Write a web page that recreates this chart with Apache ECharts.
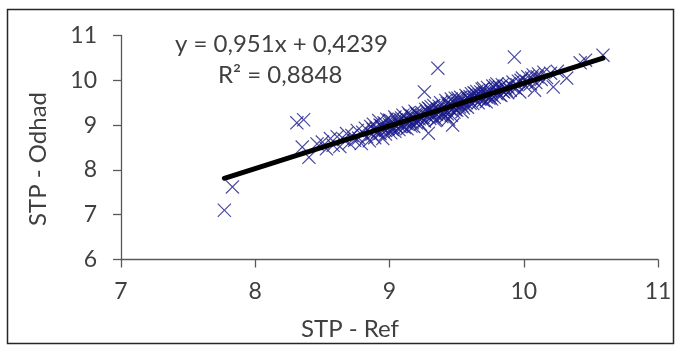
<!DOCTYPE html>
<html><head><meta charset="utf-8">
<script src="https://cdn.jsdelivr.net/npm/echarts@6/dist/echarts.min.js"></script>
<style>html,body{margin:0;padding:0;background:#fff}#c{width:676px;height:345px}</style>
</head><body><div id="c"></div>
<script>
// Scatter data: [STP - Ref, STP - Odhad]
const outlierPoints = [
  [7.77,7.10],[7.83,7.62],[8.31,9.05],[8.36,9.12],[8.35,8.51],[8.40,8.28],
  [9.36,10.27],[9.93,10.52],[10.59,10.56],[10.46,10.45],[10.42,10.39],
  [10.22,9.85],[10.32,10.05],[10.20,10.16],[9.26,9.74],[9.29,8.82],[9.47,9.00],
  [9.34,9.10],[9.44,9.13],[10.25,10.20],[10.08,9.78]
];
const clusterLow = [
  [8.46,8.58],[8.50,8.62],[8.53,8.47],[8.56,8.70],[8.58,8.55],[8.61,8.74],[8.63,8.52],
  [8.66,8.68],[8.68,8.81],[8.70,8.60],[8.72,8.77],[8.74,8.66],[8.76,8.88],[8.77,8.71],
  [8.79,8.59],[8.80,8.84],[8.82,8.93],[8.83,8.74],[8.85,8.65],[8.86,8.97]
];
const clusterMid1 = [
  [8.87,8.80],[8.88,9.02],[8.89,8.72],[8.90,8.93],[8.91,8.85],[8.92,9.10],[8.93,8.81],
  [8.94,8.98],[8.95,8.70],[8.96,9.05],[8.97,8.88],[8.98,9.13],[8.99,8.92],[9.00,9.01],
  [9.01,8.83],[9.02,9.08],[9.03,8.94],[9.04,9.18],[9.05,8.97],[9.06,9.06],[9.07,8.90],
  [9.08,9.12],[9.09,9.00],[9.10,9.22],[9.11,8.95],[9.12,9.15],[9.13,9.03],[9.14,9.27],
  [9.15,9.08],[9.16,8.98],[9.17,9.20],[9.18,9.10],[9.19,9.31],[9.20,9.05],[9.21,9.24],
  [9.22,9.14],[9.23,9.02],[9.24,9.28],[9.25,9.17],[9.27,9.35],
  [8.93,9.00],[8.97,8.80],[9.02,8.90],[9.05,9.12],[9.08,8.97],[9.12,9.05],[9.15,9.23],
  [9.18,8.97],[9.21,9.09],[9.24,9.16]
];
const clusterMid2 = [
  [9.28,9.20],[9.29,9.38],[9.30,9.15],[9.31,9.30],[9.32,9.22],[9.33,9.44],[9.34,9.26],
  [9.35,9.12],[9.36,9.35],[9.37,9.28],[9.38,9.50],[9.39,9.19],[9.40,9.40],[9.41,9.31],
  [9.42,9.55],[9.43,9.25],[9.44,9.44],[9.45,9.36],[9.46,9.22],[9.47,9.52],[9.48,9.40],
  [9.49,9.60],[9.50,9.33],[9.51,9.48],[9.52,9.41],[9.53,9.62],[9.54,9.30],[9.55,9.53],
  [9.56,9.45],[9.57,9.66],[9.58,9.40],[9.59,9.57],[9.60,9.49],
  [9.30,9.36],[9.33,9.18],[9.37,9.42],[9.40,9.24],[9.43,9.49],[9.46,9.58],[9.49,9.35],
  [9.52,9.55],[9.55,9.38],[9.58,9.62]
];
const clusterHigh = [
  [9.61,9.70],[9.62,9.48],[9.63,9.62],[9.64,9.55],[9.65,9.75],[9.66,9.50],[9.67,9.68],
  [9.68,9.58],[9.69,9.80],[9.70,9.55],[9.71,9.72],[9.72,9.63],[9.73,9.84],[9.74,9.60],
  [9.75,9.78],[9.76,9.68],[9.77,9.87],[9.78,9.62],[9.79,9.80],[9.80,9.70],[9.82,9.85],
  [9.83,9.66],[9.84,9.90],[9.85,9.74],[9.86,9.83],[9.88,9.72],[9.89,9.92],
  [9.64,9.70],[9.68,9.74],[9.72,9.52],[9.75,9.62],[9.79,9.88],[9.82,9.68],[9.87,9.78],
  [9.90,9.78],[9.92,9.96],[9.94,9.82],[9.96,9.98],[9.97,9.74],[9.99,10.05],[10.01,9.88],
  [10.03,10.08],[10.05,9.92],[10.07,10.12],[10.09,9.95],[10.11,10.14],[10.13,10.02],
  [10.15,10.18],[10.17,10.06]
];
const clusterExtra = [
  [8.88,8.90],[8.95,8.94],[9.00,9.11],[9.04,8.86],[9.09,9.16],[9.13,8.92],[9.17,9.05],
  [9.20,9.26],[9.26,9.09],[9.28,9.30],[9.31,9.41],[9.35,9.24],[9.38,9.33],[9.42,9.20],
  [9.45,9.47],[9.48,9.29],[9.51,9.60],[9.54,9.43],[9.57,9.50],[9.60,9.64],[9.63,9.72],
  [9.66,9.60],[9.70,9.82],[9.73,9.68],[9.76,9.58],[9.80,9.92],[9.84,9.76],[9.88,9.86],
  [9.92,9.84],[9.95,9.90],[9.98,10.00],[10.02,9.98],[10.06,10.05],[10.10,10.08]
];
const scatterData = [].concat(outlierPoints, clusterLow, clusterMid1, clusterMid2, clusterHigh, clusterExtra);

// Linear trendline (Excel): y = 0,951x + 0,4239 ; R² = 0,8848
const trendSlope = 0.951;
const trendIntercept = 0.4239;
const trendX = [7.77, 10.59];
const trendData = trendX.map(x => [x, trendSlope * x + trendIntercept]);

const xTicks = [7, 8, 9, 10, 11];
const yTicks = [6, 7, 8, 9, 10, 11];
const eqText = 'y = 0,951x + 0,4239';
const r2Text = 'R² = 0,8848';
const xTitle = 'STP - Ref';
const yTitle = 'STP - Odhad';

const FONT = 'Lato';
const TXT = '#404040';
const AX = '#595959';
const xSym = 'path://M0,6L6,0L50,44L94,0L100,6L56,50L100,94L94,100L50,56L6,100L0,94L44,50Z';

const chart = echarts.init(document.getElementById('c'), null, {renderer: 'canvas'});
chart.setOption({
  animation: false,
  backgroundColor: '#fff',
  grid: {left: 121, right: 18, top: 35.5, bottom: 85.5},
  xAxis: {
    type: 'value', min: xTicks[0], max: xTicks[xTicks.length-1], interval: 1,
    axisLine: {show: true, onZero: false, lineStyle: {color: AX, width: 1.3}},
    axisTick: {show: true, length: 8, lineStyle: {color: AX, width: 1.3}},
    axisLabel: {margin: 21, fontSize: 23, fontFamily: FONT, color: TXT},
    splitLine: {show: false}
  },
  yAxis: {
    type: 'value', min: yTicks[0], max: yTicks[yTicks.length-1], interval: 1,
    axisLine: {show: true, onZero: false, lineStyle: {color: AX, width: 1.3}},
    axisTick: {show: true, length: 8, lineStyle: {color: AX, width: 1.3}},
    axisLabel: {margin: 24, fontSize: 23, fontFamily: FONT, color: TXT},
    splitLine: {show: false}
  },
  series: [
    {
      type: 'scatter', data: scatterData, symbol: xSym, symbolSize: 14,
      itemStyle: {color: '#1a1a8a', opacity: 0.8}, z: 2
    },
    {
      type: 'line', data: trendData, symbol: 'none',
      lineStyle: {color: '#000', width: 5, cap: 'round'}, z: 3
    }
  ],
  graphic: [
    {type: 'rect', left: 5, top: 7, shape: {width: 666, height: 334},
     style: {fill: 'none', stroke: '#262626', lineWidth: 1.5}, silent: true, z: -1},
    {type: 'text', x: 175, y: 44, style: {text: eqText, font: '24px Lato', fill: TXT, verticalAlign: 'middle'}},
    {type: 'text', x: 218, y: 75, style: {text: r2Text, font: '24px Lato', fill: TXT, verticalAlign: 'middle'}},
    {type: 'text', x: 350, y: 329, style: {text: xTitle, font: '24px Lato', fill: TXT, align: 'center', verticalAlign: 'middle'}},
    {type: 'text', x: 38, y: 159, rotation: Math.PI/2, style: {text: yTitle, font: '24px Lato', fill: TXT, align: 'center', verticalAlign: 'middle'}}
  ]
});
</script>
</body></html>
